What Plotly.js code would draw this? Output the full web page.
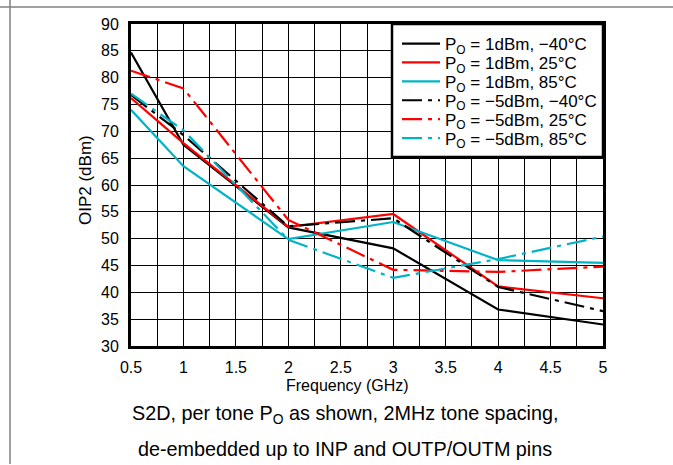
<!DOCTYPE html>
<html>
<head>
<meta charset="utf-8">
<script src="https://cdn.plot.ly/plotly-3.0.1.min.js"></script>
<style>
html,body{margin:0;padding:0;background:#fff;}
#chart{width:673px;height:465px;}
</style>
</head>
<body>
<div id="chart"></div>
<script>
// Frequency points (GHz)
const freq = [0.5, 1, 2, 3, 4, 5];

// OIP2 (dBm) per series
const p1_m40 = [84.7, 67.5, 52.1, 48.2, 36.8, 34.0];
const p1_25  = [76.2, 67.8, 52.2, 54.6, 41.1, 38.9];
const p1_85  = [74.0, 63.5, 49.9, 53.1, 46.0, 45.5];
const m5_m40 = [76.8, 69.3, 52.3, 53.8, 41.0, 36.5];
const m5_25  = [81.3, 78.0, 53.5, 44.2, 43.8, 44.8];
const m5_85  = [77.0, 70.2, 49.8, 42.7, 46.2, 50.4];

const names = [
  "P<sub>O</sub> = 1dBm, \u221240\u00B0C",
  "P<sub>O</sub> = 1dBm, 25\u00B0C",
  "P<sub>O</sub> = 1dBm, 85\u00B0C",
  "P<sub>O</sub> = \u22125dBm, \u221240\u00B0C",
  "P<sub>O</sub> = \u22125dBm, 25\u00B0C",
  "P<sub>O</sub> = \u22125dBm, 85\u00B0C"
];

const xTickVals = [0.5, 1, 1.5, 2, 2.5, 3, 3.5, 4, 4.5, 5];
const xTickText = ["0.5", "1", "1.5", "2", "2.5", "3", "3.5", "4", "4.5", "5"];
const yTickVals = [30, 35, 40, 45, 50, 55, 60, 65, 70, 75, 80, 85, 90];

const BLACK = "#000000", RED = "#ff0000", CYAN = "#00b4c8";
const DD = "20px,6px,4px,6px";

const series = [
  {y: p1_m40, c: BLACK, d: "solid"},
  {y: p1_25,  c: RED,   d: "solid"},
  {y: p1_85,  c: CYAN,  d: "solid"},
  {y: m5_m40, c: BLACK, d: DD},
  {y: m5_25,  c: RED,   d: DD},
  {y: m5_85,  c: CYAN,  d: DD}
];

const legendIds = ["legend", "legend2", "legend3", "legend4", "legend5", "legend6"];

const traces = series.map((s, i) => ({
  x: freq, y: s.y, name: names[i], type: "scatter", mode: "lines",
  legend: legendIds[i],
  line: {color: s.c, width: 2.2, dash: s.d}
}));

const FONT = "Liberation Sans, Arial, sans-serif";
const L = 131, R = 70, T = 24, B = 119, W = 673, H = 465;
const pw = W - L - R, ph = H - T - B;
const px = v => (v - L) / pw;
const py = v => (H - B - v) / ph;

const layout = {
  width: W, height: H,
  margin: {l: L, r: R, t: T, b: B, pad: 0},
  paper_bgcolor: "#fff", plot_bgcolor: "#fff",
  font: {family: FONT, size: 16, color: "#000"},
  showlegend: true,
  xaxis: {
    range: [0.5, 5], tickvals: xTickVals, ticktext: xTickText,
    showgrid: true, gridcolor: "#000", gridwidth: 1,
    minor: {dtick: 0.25, tick0: 0.5, showgrid: true, gridcolor: "#000", gridwidth: 1},
    showline: true, linecolor: "#000", linewidth: 3, mirror: true,
    ticks: "outside", ticklen: 5, tickcolor: "rgba(0,0,0,0)",
    zeroline: false, tickfont: {family: FONT, size: 16}
  },
  yaxis: {
    range: [30, 90], tickvals: yTickVals,
    showgrid: true, gridcolor: "#000", gridwidth: 1,
    showline: true, linecolor: "#000", linewidth: 3, mirror: true,
    ticks: "outside", ticklen: 6, tickcolor: "rgba(0,0,0,0)",
    zeroline: false, tickfont: {family: FONT, size: 16}
  },
  annotations: [
    {text: "Frequency (GHz)", xref: "paper", yref: "paper", x: px(347), y: py(385),
     xanchor: "center", yanchor: "middle", showarrow: false, font: {family: FONT, size: 16}},
    {text: "OIP2 (dBm)", xref: "paper", yref: "paper", x: px(85), y: py(180),
     xanchor: "center", yanchor: "middle", textangle: -90, showarrow: false, font: {family: FONT, size: 17}},
    {text: "S2D, per tone P<sub>O</sub> as shown, 2MHz tone spacing,", xref: "paper", yref: "paper",
     x: px(345), y: py(415), xanchor: "center", yanchor: "middle", showarrow: false, font: {family: FONT, size: 19.8}},
    {text: "de-embedded up to INP and OUTP/OUTM pins", xref: "paper", yref: "paper",
     x: px(345), y: py(449), xanchor: "center", yanchor: "middle", showarrow: false, font: {family: FONT, size: 19.8}}
  ],
  shapes: [
    {type: "line", xref: "paper", yref: "paper", x0: px(0), x1: px(673), y0: py(7), y1: py(7),
     line: {color: "#808080", width: 1.5}},
    {type: "line", xref: "paper", yref: "paper", x0: px(10), x1: px(10), y0: py(0), y1: py(464),
     line: {color: "#808080", width: 1.5}},
    // legend box
    {type: "rect", xref: "paper", yref: "paper", layer: "above",
     x0: px(392), x1: px(603), y0: py(24), y1: py(157),
     fillcolor: "#fff", line: {color: "#000", width: 2.5}}
  ]
};

legendIds.forEach((id, i) => {
  layout[id] = {
    x: px(397), y: py(44 + i * 18.9), xanchor: "left", yanchor: "middle",
    bgcolor: "rgba(0,0,0,0)", borderwidth: 0,
    font: {family: FONT, size: 17, color: "#000"},
    itemwidth: 38
  };
});

Plotly.newPlot("chart", traces, layout, {staticPlot: true, displayModeBar: false});
</script>
</body>
</html>
